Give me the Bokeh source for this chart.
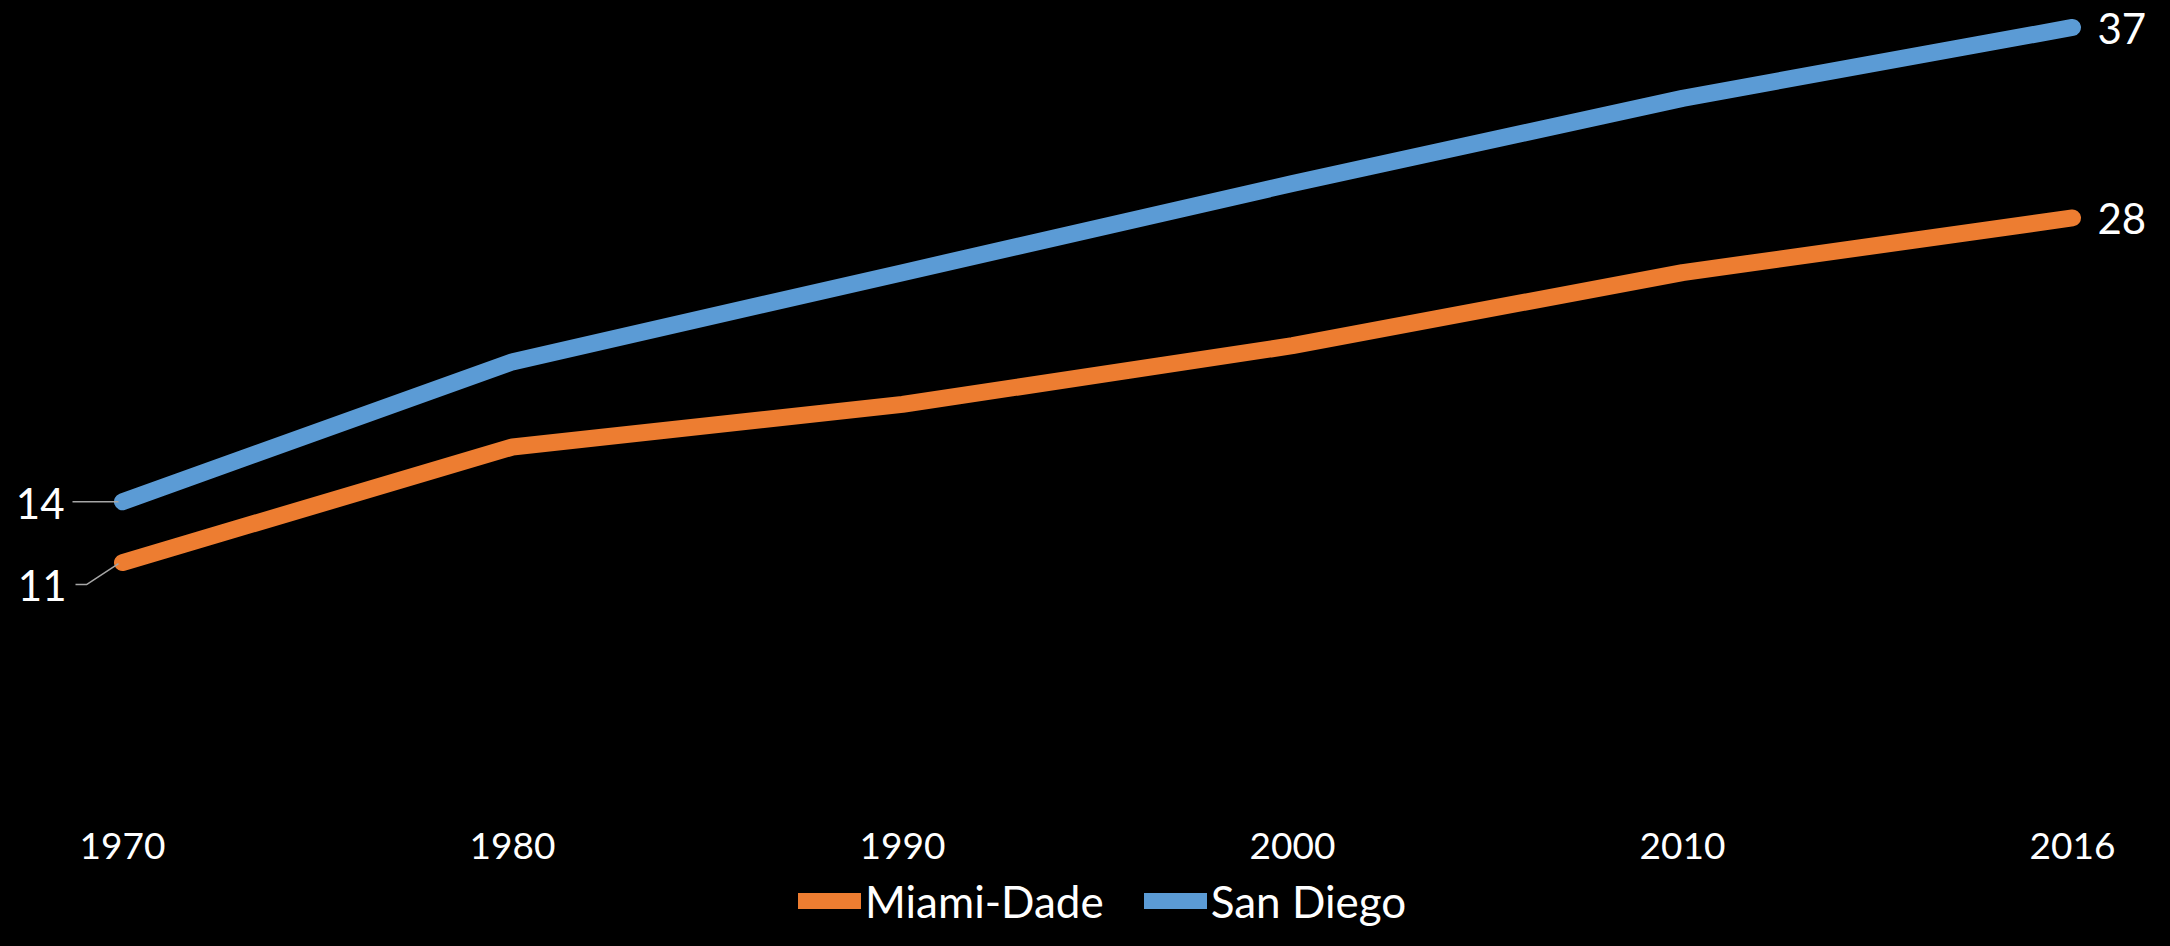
from bokeh.plotting import figure
from bokeh.models import Range1d, FixedTicker, Legend, LegendItem
from bokeh.core.properties import value
from bokeh.embed import file_html
from bokeh.resources import INLINE

# ---- data ----
years = ["1970", "1980", "1990", "2000", "2010", "2016"]
miami_dade = [11.0, 16.7, 18.8, 21.7, 25.3, 28.0]
san_diego = [14.0, 20.9, 25.3, 29.7, 33.9, 37.4]
series_names = ["Miami-Dade", "San Diego"]

# ---- style ----
ORANGE = "#ED7D31"
BLUE = "#5B9BD5"
LEADER = "#A6A6A6"
FONT = "Lato"

W, H = 2154, 930
ZERO_Y = 785         # pixel row of value 0, from top
XPU = 390.0          # pixels per category step
YPU = 20.27          # pixels per unit
x_start = -122.0 / XPU
x_end = x_start + W / XPU
y_end = ZERO_Y / YPU
y_start = -(H - ZERO_Y) / YPU

xs = list(range(len(years)))

p = figure(width=W, height=H, output_backend="svg", toolbar_location=None,
           x_range=Range1d(x_start, x_end), y_range=Range1d(y_start, y_end),
           y_axis_location=None,
           background_fill_color=None, border_fill_color="black",
           outline_line_color=None,
           min_border_left=0, min_border_right=0, min_border_top=0,
           min_border_bottom=0)
p.grid.visible = False

ax = p.xaxis[0]
ax.fixed_location = 0
ax.ticker = FixedTicker(ticks=xs)
ax.major_label_overrides = {i: y for i, y in enumerate(years)}
ax.axis_line_color = None
ax.major_tick_line_color = None
ax.minor_tick_line_color = None
ax.major_label_text_color = "white"
ax.major_label_text_font = FONT
ax.major_label_text_font_size = "37px"
ax.major_label_standoff = 41

r_m = p.line(xs, miami_dade, line_width=17, line_color=ORANGE,
             line_cap="round", line_join="round")
r_s = p.line(xs, san_diego, line_width=17, line_color=BLUE,
             line_cap="round", line_join="round")

def lbl(v):
    return str(int(round(v)))

label_kw = dict(text_color="white", text_font=value(FONT), text_font_size="42px",
                text_baseline="middle")

# end labels (right)
p.text(x=[xs[-1], xs[-1]], y=[san_diego[-1], miami_dade[-1]],
       text=[lbl(san_diego[-1]), lbl(miami_dade[-1])],
       x_offset=25, y_offset=1, text_align="left", **label_kw)

# start labels (left)
p.text(x=[xs[0]], y=[san_diego[0]], text=[lbl(san_diego[0])],
       x_offset=-58, y_offset=2, text_align="right", **label_kw)
p.text(x=[xs[0]], y=[miami_dade[0]], text=[lbl(miami_dade[0])],
       x_offset=-56, y_offset=23, text_align="right", **label_kw)

# leader lines (pixel offsets converted to data units)
p.line([xs[0] - 50 / XPU, xs[0] - 4 / XPU], [san_diego[0], san_diego[0]],
       line_color=LEADER, line_width=1.5)
p.line([xs[0] - 47 / XPU, xs[0] - 36 / XPU, xs[0] - 4 / XPU],
       [miami_dade[0] - 22 / YPU, miami_dade[0] - 22 / YPU, miami_dade[0] - 1 / YPU],
       line_color=LEADER, line_width=1.5)

legend = Legend(items=[LegendItem(label=series_names[0], renderers=[r_m]),
                       LegendItem(label=series_names[1], renderers=[r_s])],
                orientation="horizontal", location=(798, 3),
                glyph_width=63, glyph_height=16, label_standoff=4, spacing=40,
                padding=0, margin=0, background_fill_alpha=0,
                border_line_color=None, label_text_color="white",
                label_text_font=FONT, label_text_font_size="44px",
                label_text_baseline="middle")
p.add_layout(legend, "center")

html = file_html(p, INLINE)
html = html.replace("<head>", "<head><style>html,body{background:#000;}</style>", 1)
open("out.html", "w").write(html)
